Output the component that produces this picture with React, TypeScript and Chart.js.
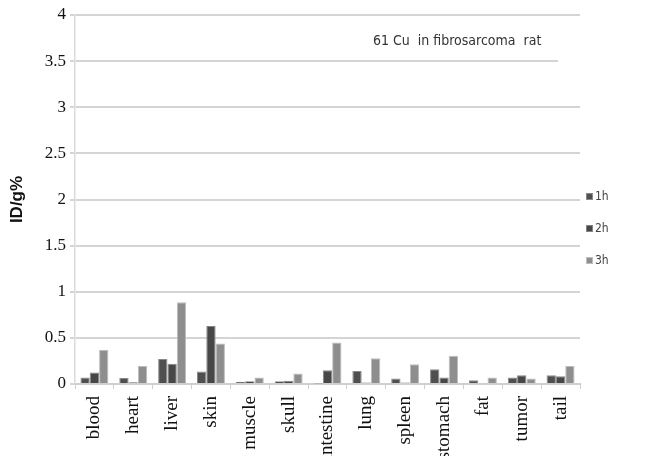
import React, { useEffect, useRef } from "react";
import { Chart, registerables } from "chart.js";

Chart.register(...registerables);

const organs = ["blood", "heart", "liver", "skin", "muscle", "skull", "intestine", "lung", "spleen", "stomach", "fat", "tumor", "tail"];
const seriesNames = ["1h", "2h", "3h"];
const h1 = [0.07, 0.065, 0.27, 0.135, 0.025, 0.03, 0.005, 0.14, 0.06, 0.16, 0.04, 0.07, 0.095];
const h2 = [0.125, 0.02, 0.22, 0.63, 0.03, 0.035, 0.15, 0.015, 0.015, 0.07, 0.01, 0.095, 0.085];
const h3 = [0.37, 0.195, 0.885, 0.44, 0.07, 0.115, 0.45, 0.28, 0.215, 0.305, 0.07, 0.06, 0.195];
const noteText = "61 Cu  in fibrosarcoma  rat";

const fills = ["#4f4f4f", "#474747", "#8e8e8e"];
const edges = ["#8a8a8a", "#858585", "#bdbdbd"];

// legend + note drawn by hand so they sit where the original had them
const extrasPlugin = {
    id: "extras",
    beforeDatasetsDraw(chart: any) {
        const { ctx } = chart;
        const y = chart.scales.y.getPixelForValue(3.5);
        ctx.save();
        ctx.fillStyle = "#ffffff";
        ctx.fillRect(558, y - 3, chart.chartArea.right - 556, 6);
        ctx.restore();
    },
    afterDraw(chart: any) {
        const { ctx } = chart;
        ctx.save();
        ctx.font = "14px 'Liberation Sans Narrow', 'DejaVu Sans Condensed', sans-serif";
        ctx.fillStyle = "#333";
        ctx.textBaseline = "middle";
        ctx.fillText(noteText, 373, 41);

        const rows = [197, 229, 261];
        chart.data.datasets.forEach((ds: any, i: number) => {
            ctx.fillStyle = ds.backgroundColor;
            ctx.fillRect(586, rows[i] - 4, 7, 7);
            ctx.strokeStyle = ds.borderColor;
            ctx.lineWidth = 1;
            ctx.strokeRect(586.5, rows[i] - 3.5, 6, 6);
            ctx.fillStyle = "#444";
            ctx.font = "12px 'Liberation Sans Narrow', 'DejaVu Sans Condensed', sans-serif";
            ctx.fillText(ds.label, 595, rows[i]);
        });
        ctx.restore();
    },
};

const App: React.FC = () => {
    const canvasRef = useRef<HTMLCanvasElement | null>(null);
    const chartRef = useRef<Chart | null>(null);

    useEffect(() => {
        document.body.style.margin = "0";
        if (canvasRef.current === null) return;
        const ctx = canvasRef.current.getContext("2d");
        if (ctx === null) return;

        const values = [h1, h2, h3];
        chartRef.current = new Chart(ctx, {
            type: "bar",
            data: {
                labels: organs,
                datasets: seriesNames.map((name, i) => ({
                    label: name,
                    data: values[i],
                    backgroundColor: fills[i],
                    borderColor: edges[i],
                    borderWidth: 1,
                    categoryPercentage: 0.72,
                    barPercentage: 1.0,
                })),
            },
            options: {
                animation: false,
                responsive: false,
                maintainAspectRatio: false,
                layout: { padding: { top: 15, right: 69, left: 0, bottom: 0 } },
                plugins: {
                    legend: { display: false },
                    tooltip: { enabled: false },
                },
                scales: {
                    x: {
                        grid: { drawOnChartArea: false, drawTicks: true, tickLength: 5, color: "#cfcfcf", offset: true },
                        border: { display: true, color: "#cfcfcf", width: 2 },
                        ticks: {
                            minRotation: 90,
                            maxRotation: 90,
                            autoSkip: false,
                            padding: 7,
                            color: "#111",
                            font: { family: "'Liberation Serif', 'Times New Roman', serif", size: 19 },
                        },
                        afterFit: (scale: any) => { scale.height = 72; },
                    },
                    y: {
                        min: 0,
                        max: 4,
                        ticks: {
                            stepSize: 0.5,
                            padding: 4,
                            color: "#111",
                            font: { family: "'Liberation Serif', 'Times New Roman', serif", size: 17 },
                            callback: (v: any) => String(Number(v)),
                        },
                        grid: { color: "#d4d4d4", lineWidth: 2, tickLength: 5 },
                        border: { display: true, color: "#dadada", width: 1.5 },
                        title: {
                            display: true,
                            text: "ID/g%",
                            color: "#111",
                            padding: { top: 7, bottom: 0 },
                            font: { family: "'Liberation Sans', Arial, sans-serif", size: 17, weight: "bold" },
                        },
                        afterFit: (scale: any) => { scale.width = 75; },
                    },
                },
            },
            plugins: [extrasPlugin],
        });

        return () => {
            if (chartRef.current !== null) {
                chartRef.current.destroy();
                chartRef.current = null;
            }
        };
    }, []);

    return (
        <div style={{ width: 649, height: 456, background: "#fff" }}>
            <canvas ref={canvasRef} width={649} height={456}></canvas>
        </div>
    );
};

export default App;
